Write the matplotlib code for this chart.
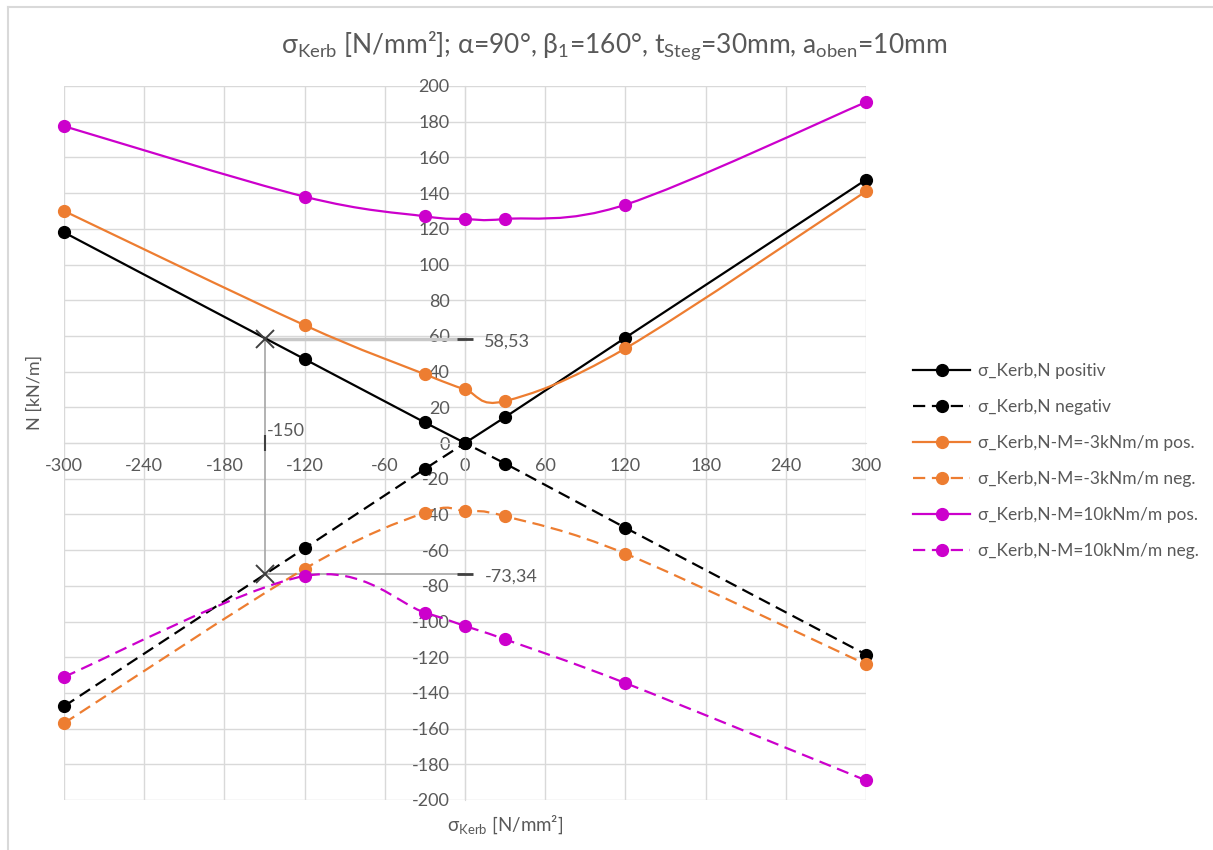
import numpy as np
import matplotlib
matplotlib.use("Agg")
import matplotlib.pyplot as plt
from matplotlib.path import Path
from matplotlib.patches import PathPatch
from matplotlib.lines import Line2D

plt.rcParams['font.family'] = ['Lato', 'DejaVu Sans']
plt.rcParams['mathtext.fontset'] = 'custom'
plt.rcParams['mathtext.rm'] = 'Lato'
plt.rcParams['axes.unicode_minus'] = False

# ---------------- data ----------------
sigma = [-300, -120, -30, 0, 30, 120, 300]
n_pos = [118, 47, 11.5, 0, 14.5, 59, 147.5]
n_neg = [-147.5, -59, -14.5, 0, -11.5, -47.5, -118.5]
m3_pos = [130, 66, 38.5, 30, 23.5, 53, 141]
m3_neg = [-157, -70.5, -39, -38, -41, -62, -124]
m10_pos = [177.5, 138, 127, 125.5, 125.5, 133.5, 191]
m10_neg = [-131, -74.5, -95, -102.5, -110, -134.5, -189]

series_labels = ["σ_Kerb,N positiv", "σ_Kerb,N negativ",
                 "σ_Kerb,N-M=-3kNm/m pos.", "σ_Kerb,N-M=-3kNm/m neg.",
                 "σ_Kerb,N-M=10kNm/m pos.", "σ_Kerb,N-M=10kNm/m neg."]

ann_x = -150
ann_y = [58.53, -73.34]
ann_labels = ["58,53", "-73,34"]
ann_x_label = "-150"

x_ticks = [-300, -240, -180, -120, -60, 0, 60, 120, 180, 240, 300]
y_ticks = list(range(-200, 201, 20))

# ---------------- figure ----------------
W, H = 1213, 850
fig = plt.figure(figsize=(W / 100, H / 100), dpi=100)
L, R, T, B = 64, 866, 86, 800
ax = fig.add_axes([L / W, 1 - B / H, (R - L) / W, (B - T) / H])
ax.set_xlim(-300, 300)
ax.set_ylim(-200, 200)

grid_c = '#d9d9d9'
text_c = '#595959'

ax.set_xticks(x_ticks)
ax.set_yticks(y_ticks)
ax.grid(True, color=grid_c, lw=1.0, zorder=0)
for s in ['top', 'right']:
    ax.spines[s].set_visible(False)
ax.spines['left'].set_position(('data', 0))
ax.spines['bottom'].set_position(('data', 0))
ax.spines['left'].set_color(grid_c)
ax.spines['bottom'].set_color(grid_c)
ax.tick_params(axis='both', length=0, labelsize=13, labelcolor=text_c)
ax.tick_params(axis='y', pad=11)
ax.tick_params(axis='x', pad=11)


def smooth_path(xs, ys):
    pts = np.column_stack([xs, ys]).astype(float)
    n = len(pts)
    verts = [pts[0]]
    codes = [Path.MOVETO]
    for i in range(n - 1):
        p0 = pts[i - 1] if i > 0 else pts[i]
        p1 = pts[i]
        p2 = pts[i + 1]
        p3 = pts[i + 2] if i + 2 < n else pts[i + 1]
        c1 = p1 + (p2 - p0) / 6.0
        c2 = p2 - (p3 - p1) / 6.0
        verts += [c1, c2, p2]
        codes += [Path.CURVE4] * 3
    return Path(verts, codes)


black = '#000000'
orange = '#ED7D31'
magenta = '#CC00CC'
dash = (0, (5.5, 3))
lw = 1.6
ms = 8.5

series = [
    (n_pos, black, '-', False),
    (n_neg, black, dash, False),
    (m3_pos, orange, '-', True),
    (m3_neg, orange, dash, True),
    (m10_pos, magenta, '-', True),
    (m10_neg, magenta, dash, True),
]

handles = []
for (vals, col, ls, smooth), lab in zip(series, series_labels):
    if smooth:
        patch = PathPatch(smooth_path(sigma, vals), facecolor='none',
                          edgecolor=col, lw=lw, linestyle=ls, zorder=3)
        ax.add_patch(patch)
    else:
        ax.plot(sigma, vals, color=col, lw=lw, linestyle=ls, zorder=3)
    ax.plot(sigma, vals, 'o', color=col, ms=ms, zorder=4, clip_on=False)
    handles.append(Line2D([0], [0], color=col, lw=lw, linestyle=ls,
                          marker='o', ms=ms, label=lab))

# ---------------- annotations ----------------
ax.plot([ann_x, 0], [ann_y[0], ann_y[0]], color='#c8c8c8', lw=2.5, zorder=2)
ax.plot([ann_x, 0], [ann_y[1], ann_y[1]], color='#a6a6a6', lw=1.2, zorder=2)
ax.plot([ann_x, ann_x], ann_y, color='#a6a6a6', lw=1.2, zorder=2)
ax.plot([ann_x, ann_x], ann_y, 'x', color='#404040', ms=13, mew=1.4, zorder=5)
ax.plot([0, 0], ann_y, '_', color='#404040', ms=11, mew=2, zorder=5)
for yv, lab in zip(ann_y, ann_labels):
    ax.annotate(lab, (0, yv), xytext=(14, -2), textcoords='offset points',
                ha='left', va='center', fontsize=13, color=text_c)
ax.plot([ann_x], [0], '|', color='#404040', ms=11, mew=1.5, zorder=5)
ax.annotate(ann_x_label, (ann_x, 0), xytext=(2, 9), textcoords='offset points',
            ha='left', va='center', fontsize=13, color=text_c)

# ---------------- texts ----------------
fig.text(614 / W, 1 - 45 / H,
         r"σ$_\mathregular{Kerb}$ [N/mm²]; α=90°, β$_\mathregular{1}$=160°, "
         r"t$_\mathregular{Steg}$=30mm, a$_\mathregular{oben}$=10mm",
         ha='center', va='center', fontsize=19, color=text_c)
fig.text(35 / W, 1 - 392 / H, "N [kN/m]", rotation=90, ha='center',
         va='center', fontsize=13, color=text_c)
fig.text(505 / W, 1 - 825 / H, r"σ$_\mathregular{Kerb}$ [N/mm²]",
         ha='center', va='center', fontsize=13.5, color=text_c)

leg = fig.legend(handles=handles, loc='upper left',
                 bbox_to_anchor=(906 / W, 1 - 356 / H), frameon=False,
                 fontsize=12.5, labelspacing=1.15, handlelength=3.3,
                 handletextpad=0.45, borderaxespad=0)
for t in leg.get_texts():
    t.set_color(text_c)

# chart border (top and left visible)
fig.add_artist(Line2D([8 / W, 1], [1 - 7 / H, 1 - 7 / H], color='#d9d9d9',
                      lw=1.5, transform=fig.transFigure))
fig.add_artist(Line2D([8 / W, 8 / W], [0, 1 - 7 / H], color='#d9d9d9',
                      lw=1.5, transform=fig.transFigure))

fig.savefig("out.png", dpi=100)
